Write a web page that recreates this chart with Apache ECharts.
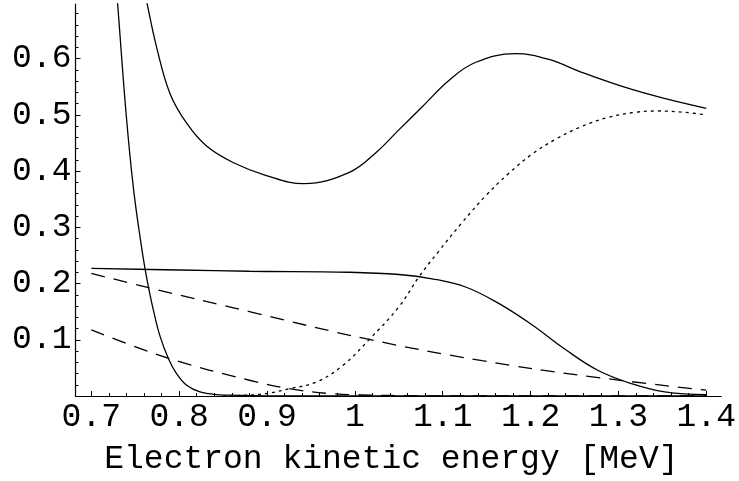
<!DOCTYPE html>
<html>
<head>
<meta charset="utf-8">
<script src="https://cdn.jsdelivr.net/npm/echarts@6/dist/echarts.min.js"></script>
<style>
html, body { margin: 0; padding: 0; background: #fff; }
#show { width: 739px; height: 481px; }
</style>
</head>
<body>
<div id="show"></div>
<script>
var myChart = echarts.init(document.getElementById("show"));

// curves, [energy, value]
var steepSolid = [[0.7285, 0.72], [0.7298, 0.70], [0.7397, 0.5], [0.748, 0.3687], [0.7567, 0.2696], [0.7612, 0.2259],
    [0.765, 0.1939], [0.7706, 0.153], [0.7782, 0.1065], [0.7877, 0.0668], [0.7972, 0.0393], [0.8085, 0.019],
    [0.8236, 0.0073], [0.8425, 0.0026], [0.869, 0.0012], [0.9, 0.0003], [1.0, 0], [1.4, 0]];
var upperSolid = [[0.759, 0.735], [0.7632, 0.70], [0.7745, 0.619], [0.7896, 0.5376], [0.8085, 0.4851], [0.8312, 0.4444],
    [0.8613, 0.4152], [0.8992, 0.392], [0.942, 0.3775], [0.9937, 0.3977], [1.0239, 0.4327],
    [1.0503, 0.4736], [1.0767, 0.5143], [1.107, 0.561], [1.137, 0.593], [1.1827, 0.6087], [1.22, 0.5988],
    [1.2582, 0.5755], [1.307, 0.549], [1.35, 0.530], [1.40, 0.5114]];
var dotted = [[0.85, 0], [0.87, 0.001], [0.8992, 0.0044], [0.9256, 0.013], [0.956, 0.0248], [0.986, 0.054], [1.0163, 0.1005],
    [1.0503, 0.159], [1.073, 0.212], [1.0957, 0.2579], [1.1221, 0.3085], [1.1486, 0.3555], [1.175, 0.3955],
    [1.2015, 0.4299], [1.228, 0.4561], [1.2582, 0.4794], [1.2888, 0.4956], [1.3187, 0.5044], [1.3451, 0.5068],
    [1.3753, 0.5044], [1.40, 0.4998]];
var plateau = [[0.7, 0.227], [0.8, 0.224], [0.88, 0.2218], [0.9937, 0.220], [1.0503, 0.216], [1.088, 0.2084], [1.126, 0.1938],
    [1.1637, 0.1647], [1.2015, 0.1267], [1.2393, 0.083], [1.277, 0.0453], [1.3149, 0.0219], [1.3527, 0.0073], [1.40, 0.0026]];
var dashedUpper = [[0.7, 0.218], [0.767, 0.192], [0.88, 0.150], [1.0163, 0.1005], [1.1448, 0.0628], [1.258, 0.0365], [1.40, 0.0103]];
var dashedLower = [[0.7, 0.1175], [0.788, 0.067], [0.88, 0.028], [0.9256, 0.013], [0.975, 0.004], [1.04, 0.001], [1.1, 0], [1.4, 0]];

var xMajor = [0.7, 0.8, 0.9, 1.0, 1.1, 1.2, 1.3, 1.4];
var xMinor = [0.72, 0.74, 0.76, 0.78, 0.82, 0.84, 0.86, 0.88, 0.92, 0.94, 0.96, 0.98, 1.02, 1.04, 1.06, 1.08,
    1.12, 1.14, 1.16, 1.18, 1.22, 1.24, 1.26, 1.28, 1.32, 1.34, 1.36, 1.38];
var yMajor = [0.1, 0.2, 0.3, 0.4, 0.5, 0.6];
var yMinor = [0.02, 0.04, 0.06, 0.08, 0.12, 0.14, 0.16, 0.18, 0.22, 0.24, 0.26, 0.28, 0.32, 0.34, 0.36, 0.38,
    0.42, 0.44, 0.46, 0.48, 0.52, 0.54, 0.56, 0.58, 0.62, 0.64, 0.66, 0.68];

var font = "'Liberation Mono', 'DejaVu Sans Mono', monospace";
var xMin = 0.682, xMax = 1.417, yMin = 0, yMax = 0.697;

function line(data, type) {
    return {
        type: 'line',
        data: data,
        showSymbol: false,
        smooth: 0.4,
        lineStyle: { color: '#000', width: 1.3, type: type },
        animation: false
    };
}

myChart.setOption({
    backgroundColor: '#fff',
    grid: { left: 75.5, right: 16, top: 4, bottom: 77.5 },
    xAxis: [
        {
            type: 'value', min: xMin, max: xMax,
            name: 'Electron kinetic energy [MeV]',
            nameLocation: 'middle',
            nameGap: 47,
            nameTextStyle: { fontFamily: font, fontSize: 33, color: '#000', padding: [0, 14, 0, 0] },
            axisLine: { lineStyle: { color: '#000', width: 1.2 } },
            axisTick: { inside: true, length: 5, customValues: xMajor, lineStyle: { color: '#000' } },
            axisLabel: {
                customValues: xMajor, margin: 5, fontFamily: font, fontSize: 33, color: '#000',
                formatter: function (v) { return String(Math.round(v * 10) / 10); }
            },
            splitLine: { show: false }
        },
        {
            type: 'value', min: xMin, max: xMax, position: 'bottom',
            axisLine: { show: false },
            axisTick: { inside: true, length: 3, customValues: xMinor, lineStyle: { color: '#000' } },
            axisLabel: { show: false },
            splitLine: { show: false }
        }
    ],
    yAxis: [
        {
            type: 'value', min: yMin, max: yMax,
            axisLine: { show: true, lineStyle: { color: '#000', width: 1.2 } },
            axisTick: { show: true, inside: true, length: 5, customValues: yMajor, lineStyle: { color: '#000' } },
            axisLabel: {
                customValues: yMajor, margin: 4, fontFamily: font, fontSize: 33, color: '#000',
                formatter: function (v) { return (Math.round(v * 10) / 10).toFixed(1); }
            },
            splitLine: { show: false }
        },
        {
            type: 'value', min: yMin, max: yMax, position: 'left',
            axisLine: { show: false },
            axisTick: { show: true, inside: true, length: 3, customValues: yMinor, lineStyle: { color: '#000' } },
            axisLabel: { show: false },
            splitLine: { show: false }
        }
    ],
    series: [
        line(steepSolid, 'solid'),
        line(upperSolid, 'solid'),
        line(plateau, 'solid'),
        line(dotted, [3, 4]),
        line(dashedUpper, [14, 9]),
        line(dashedLower, [14, 9])
    ]
});
</script>
</body>
</html>
